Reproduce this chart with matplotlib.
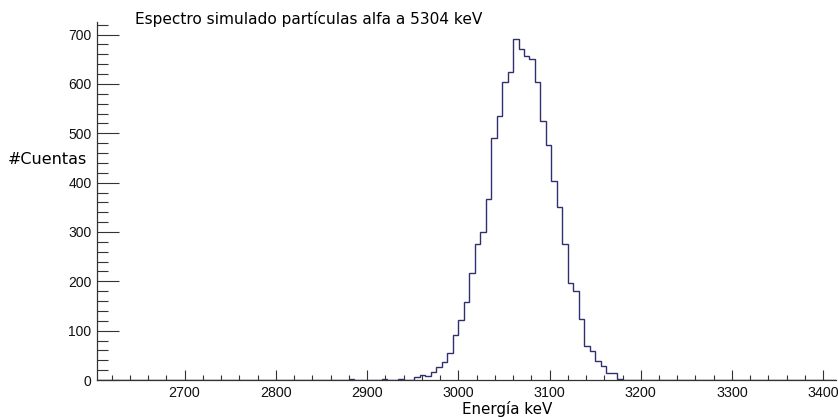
import numpy as np
import matplotlib
matplotlib.use("Agg")
import matplotlib.pyplot as plt
from matplotlib.ticker import MultipleLocator

# ---- data ----
hist_range = (2604, 3414)       # keV
bin_width = 6                   # keV
bin_starts = [2880, 2916, 2934, 2952, 2958, 2964, 2970, 2976, 2982, 2988, 2994,
              3000, 3006, 3012, 3018, 3024, 3030, 3036, 3042, 3048, 3054,
              3060, 3066, 3072, 3078, 3084, 3090, 3096, 3102, 3108, 3114,
              3120, 3126, 3132, 3138, 3144, 3150, 3156, 3162, 3168, 3174]
counts = [2, 2, 2, 7, 11, 9, 17, 27, 37, 54, 91,
          122, 159, 216, 276, 299, 366, 491, 536, 603, 624,
          691, 670, 657, 651, 603, 524, 476, 403, 351, 276,
          196, 180, 124, 68, 59, 39, 28, 15, 15, 3]
title = "Espectro simulado partículas alfa a 5304 keV"
xlabel = "Energía keV"
ylabel = "#Cuentas"

edges = np.arange(hist_range[0], hist_range[1] + bin_width, bin_width)
full = np.zeros(len(edges) - 1)
for s, c in zip(bin_starts, counts):
    full[int(round((s - hist_range[0]) / bin_width))] = c

W, H = 838, 417
fig = plt.figure(figsize=(W / 100, H / 100), dpi=100)
ax = fig.add_axes([97 / W, 37 / H, (836 - 97) / W, (395 - 37) / H])

ax.stairs(full, edges, color="#30306e", lw=1.0, baseline=0)
ax.set_xlim(*hist_range)
ax.set_ylim(0, max(counts) * 1.05)

for s in ("top", "right"):
    ax.spines[s].set_visible(False)
for s in ("left", "bottom"):
    ax.spines[s].set_color("#333333")
    ax.spines[s].set_linewidth(0.9)

ax.xaxis.set_major_locator(MultipleLocator(100))
ax.xaxis.set_minor_locator(MultipleLocator(20))
ax.yaxis.set_major_locator(MultipleLocator(100))
ax.yaxis.set_minor_locator(MultipleLocator(20))

ax.tick_params(axis="y", which="major", direction="in", length=15.5, width=0.8,
               color="#333333", pad=4.0, labelsize=10)
ax.tick_params(axis="y", which="minor", direction="in", length=7.8, width=0.8,
               color="#333333")
ax.tick_params(axis="x", which="major", direction="in", length=7.5, width=0.8,
               color="#333333", pad=4.0, labelsize=10.3)
ax.tick_params(axis="x", which="minor", direction="in", length=3.8, width=0.8,
               color="#333333")
for lab in ax.get_xticklabels() + ax.get_yticklabels():
    lab.set_family("Liberation Sans")
    lab.set_color("#111111")

fig.text(135 / W, 1 - 19 / H, title, ha="left", va="center",
         fontsize=11.1, family="DejaVu Sans", color="#000000")
fig.text(8 / W, 1 - 159 / H, ylabel, ha="left", va="center",
         fontsize=11.5, family="DejaVu Sans", color="#000000")
fig.text(507 / W, 1 - 409 / H, xlabel, ha="center", va="center",
         fontsize=10.9, family="DejaVu Sans", color="#000000")

fig.savefig("out.png", dpi=100)
